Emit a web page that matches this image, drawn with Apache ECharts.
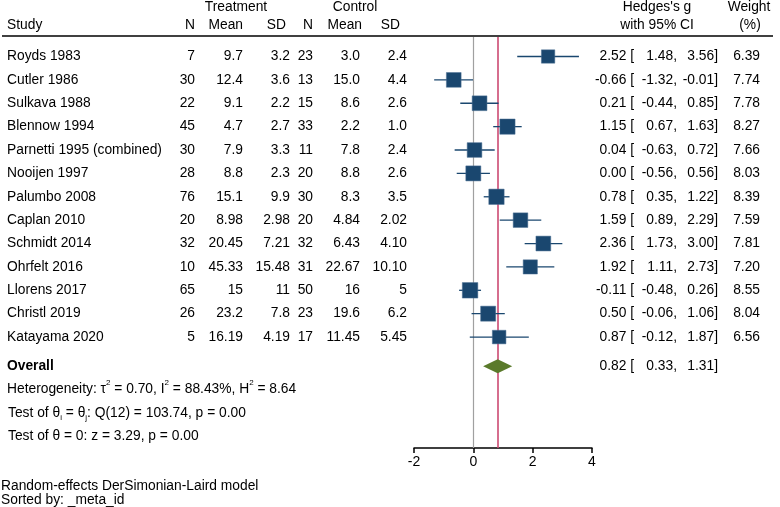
<!DOCTYPE html>
<html><head><meta charset="utf-8">
<script src="https://cdn.jsdelivr.net/npm/echarts@6/dist/echarts.min.js"></script>
<style>html,body{margin:0;padding:0;background:#fff}#c{width:780px;height:507px}</style>
</head><body><div id="c"></div>
<script>
var studies = ["Royds 1983","Cutler 1986","Sulkava 1988","Blennow 1994","Parnetti 1995 (combined)","Nooijen 1997","Palumbo 2008","Caplan 2010","Schmidt 2014","Ohrfelt 2016","Llorens 2017","Christl 2019","Katayama 2020"];
var tN    = ["7","30","22","45","30","28","76","20","32","10","65","26","5"];
var tMean = ["9.7","12.4","9.1","4.7","7.9","8.8","15.1","8.98","20.45","45.33","15","23.2","16.19"];
var tSD   = ["3.2","3.6","2.2","2.7","3.3","2.3","9.9","2.98","7.21","15.48","11","7.8","4.19"];
var cN    = ["23","13","15","33","11","20","30","20","32","31","50","23","17"];
var cMean = ["3.0","15.0","8.6","2.2","7.8","8.8","8.3","4.84","6.43","22.67","16","19.6","11.45"];
var cSD   = ["2.4","4.4","2.6","1.0","2.4","2.6","3.5","2.02","4.10","10.10","5","6.2","5.45"];
var g      = [2.52,-0.66,0.21,1.15,0.04,0.00,0.78,1.59,2.36,1.92,-0.11,0.50,0.87];
var lo     = [1.48,-1.32,-0.44,0.67,-0.63,-0.56,0.35,0.89,1.73,1.11,-0.48,-0.06,-0.12];
var hi     = [3.56,-0.01,0.85,1.63,0.72,0.56,1.22,2.29,3.00,2.73,0.26,1.06,1.87];
var weight = [6.39,7.74,7.78,8.27,7.66,8.03,8.39,7.59,7.81,7.20,8.55,8.04,6.56];
var overallG = 0.82, overallLo = 0.33, overallHi = 1.31;
var overallRow = 13.25;
var xTicks = [-2, 0, 2, 4];

var FONT = 'Liberation Sans, Arial, Helvetica, sans-serif';
var FS = 13.8;
var NAVY = '#1a476f';

function f2(v){ return v.toFixed(2); }

var chart = echarts.init(document.getElementById('c'), null, {renderer:'canvas'});

function txt(x, y, s, align, bold){
  return {type:'text', x:x, y:y, style:{text:s, fill:'#000', fontSize:FS, fontFamily:FONT,
    fontWeight: bold ? 'bold' : 'normal', align:align||'left', verticalAlign:'middle'}};
}
function gtxt(x, y, s, align){
  return {type:'text', x:x, y:y, style:{text:s, fill:'#000', fontSize:FS, fontFamily:FONT, align:align, verticalAlign:'middle'}};
}

var studyData = studies.map(function(s,i){ return [g[i], i, lo[i], hi[i], weight[i]]; });

var option = {
  animation:false,
  grid:{left:414, right:188, top:37, height:411, containLabel:false},
  xAxis:{type:'value', min:-2, max:4, interval:2,
    axisLine:{show:true, onZero:false, lineStyle:{color:'#000', width:1.5}},
    axisTick:{show:true, length:5, lineStyle:{color:'#000', width:1.5}},
    axisLabel:{color:'#000', fontSize:14, fontFamily:FONT, margin:7,
      formatter:function(v){ return xTicks.indexOf(v)>=0 ? String(v) : ''; }},
    splitLine:{show:false}},
  yAxis:{type:'value', inverse:true, min:-0.834, max:16.745, show:false},
  series:[
    {type:'line', data:[], z:1, silent:true,
      markLine:{symbol:'none', silent:true, label:{show:false},
        data:[{xAxis:0, lineStyle:{color:'#a0a0a0', width:1.2, type:'solid'}},
              {xAxis:overallG, lineStyle:{color:'#cc4a72', width:1.6, type:'solid'}}]}},
    {type:'custom', z:5, clip:false, data:studyData, encode:{x:[0,2,3], y:1},
      renderItem:function(params, api){
        var c = api.coord([api.value(0), api.value(1)]);
        var a = api.coord([api.value(2), api.value(1)]);
        var b = api.coord([api.value(3), api.value(1)]);
        var s = 5.3*Math.sqrt(api.value(4));
        return {type:'group', children:[
          {type:'line', shape:{x1:a[0], y1:a[1], x2:b[0], y2:b[1]}, style:{stroke:NAVY, lineWidth:1.3}},
          {type:'rect', shape:{x:c[0]-s/2, y:c[1]-s/2, width:s, height:s}, style:{fill:NAVY, stroke:'#4a6f92', lineWidth:0.5}}
        ]};
      }},
    {type:'custom', z:5, clip:false, data:[[overallG, overallRow, overallLo, overallHi]], encode:{x:[0,2,3], y:1},
      renderItem:function(params, api){
        var c = api.coord([api.value(0), api.value(1)]);
        var a = api.coord([api.value(2), api.value(1)]);
        var b = api.coord([api.value(3), api.value(1)]);
        return {type:'polygon', shape:{points:[[a[0],a[1]],[c[0],c[1]-7],[b[0],b[1]],[c[0],c[1]+7]]},
          style:{fill:'#5a7a2b'}};
      }},
    {type:'custom', z:6, clip:false, silent:true,
      data:studies.map(function(s,i){ return [0,i]; }).concat([[0, overallRow]]), encode:{x:0, y:1},
      renderItem:function(params, api){
        var i = params.dataIndex;
        var y = api.coord([0, api.value(1)])[1];
        if (i >= studies.length) {
          return {type:'group', children:[
            txt(7, y, 'Overall', 'left', true),
            txt(634, y, f2(overallG)+' [', 'right'),
            txt(677, y, f2(overallLo)+',', 'right'),
            txt(718, y, f2(overallHi)+']', 'right')
          ]};
        }
        return {type:'group', children:[
          txt(7, y, studies[i], 'left'),
          txt(195, y, tN[i], 'right'),
          txt(243, y, tMean[i], 'right'),
          txt(290, y, tSD[i], 'right'),
          txt(313, y, cN[i], 'right'),
          txt(360, y, cMean[i], 'right'),
          txt(407, y, cSD[i], 'right'),
          txt(634, y, f2(g[i])+' [', 'right'),
          txt(677, y, f2(lo[i])+',', 'right'),
          txt(718, y, f2(hi[i])+']', 'right'),
          txt(760, y, weight[i].toFixed(2), 'right')
        ]};
      }}
  ],
  graphic:[
    {type:'line', shape:{x1:2, y1:36, x2:773, y2:36}, style:{stroke:'#000', lineWidth:1.5}},
    gtxt(236, 7, 'Treatment', 'center'),
    gtxt(355, 7, 'Control', 'center'),
    gtxt(657, 7, "Hedges's g", 'center'),
    gtxt(657, 25, 'with 95% CI', 'center'),
    gtxt(749, 7, 'Weight', 'center'),
    gtxt(750, 25, '(%)', 'center'),
    gtxt(7, 25, 'Study', 'left'),
    gtxt(195, 25, 'N', 'right'),
    gtxt(243, 25, 'Mean', 'right'),
    gtxt(286, 25, 'SD', 'right'),
    gtxt(313, 25, 'N', 'right'),
    gtxt(362, 25, 'Mean', 'right'),
    gtxt(400, 25, 'SD', 'right'),
    {type:'text', x:7, y:389, style:{text:'{n|Heterogeneity: τ}{sup|2}{n| = 0.70, I}{sup|2}{n| = 88.43%, H}{sup|2}{n| = 8.64}',
      rich:{n:{fontSize:FS, fontFamily:FONT, fill:'#000', lineHeight:20}, sup:{fontSize:8, fontFamily:FONT, fill:'#000', lineHeight:20, verticalAlign:'top'}},
      align:'left', verticalAlign:'middle'}},
    {type:'text', x:8, y:413, style:{text:'{n|Test of θ}{sub|i}{n| = θ}{sub|j}{n|: Q(12) = 103.74, p = 0.00}',
      rich:{n:{fontSize:FS, fontFamily:FONT, fill:'#000', lineHeight:18}, sub:{fontSize:8, fontFamily:FONT, fill:'#000', lineHeight:18, verticalAlign:'bottom'}},
      align:'left', verticalAlign:'middle'}},
    gtxt(8, 436, 'Test of θ = 0: z = 3.29, p = 0.00', 'left'),
    gtxt(1, 486, 'Random-effects DerSimonian-Laird model', 'left'),
    gtxt(1, 500, 'Sorted by: _meta_id', 'left')
  ]
};
chart.setOption(option);
</script></body></html>
